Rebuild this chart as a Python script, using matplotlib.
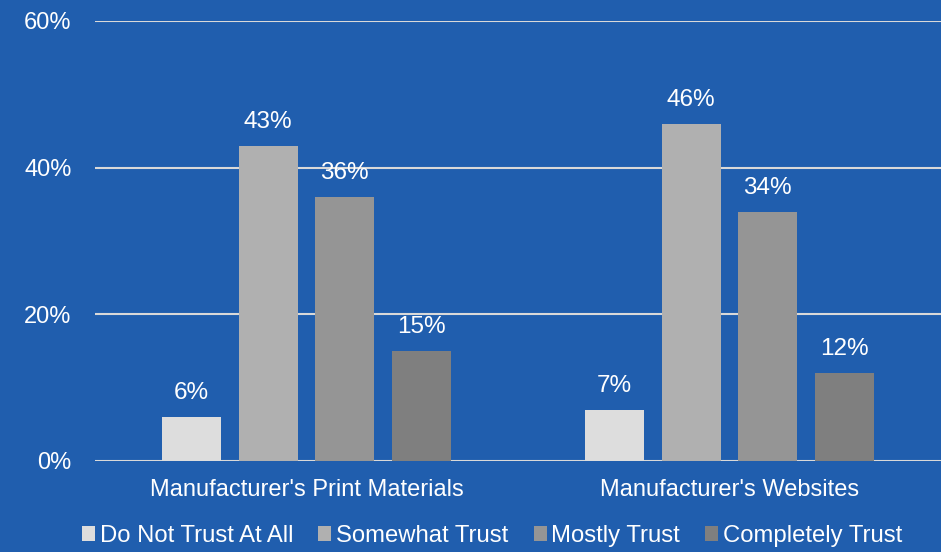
import matplotlib.pyplot as plt
import numpy as np
from matplotlib import rcParams
from matplotlib.ticker import FuncFormatter

rcParams.update({
    "font.family": ['Liberation Sans', 'DejaVu Sans'],
    "font.size": 17,
})

categories = ["Manufacturer's Print Materials", "Manufacturer's Websites"]
series = ['Do Not Trust At All', 'Somewhat Trust', 'Mostly Trust', 'Completely Trust']
values = [
    [6, 7],
    [43, 46],
    [36, 34],
    [15, 12],
]
colors = ['#DDDDDD', '#B0B0B0', '#959595', '#7F7F7F']
bg = '#205EAE'

fig = plt.figure(figsize=(9.41, 5.52), dpi=100)
fig.patch.set_facecolor(bg)
ax = fig.add_axes([0.101, 0.165, 0.899, 0.797])
ax.set_facecolor(bg)

x = np.arange(len(categories))
w = 0.14
step = 0.181
for i, (name, vals) in enumerate(zip(series, values)):
    pos = x + (i - 1.5) * step
    bars = ax.bar(pos, vals, width=w, color=colors[i], label=name, zorder=3)
    for b, v in zip(bars, vals):
        ax.text(b.get_x() + b.get_width() / 2, v + 1.7, f'{v}%',
                ha='center', va='bottom', color='white', fontsize=17.5)

ax.set_xlim(-0.5, 1.5)
ax.set_ylim(0, 60)
ax.set_yticks([0, 20, 40, 60])
ax.yaxis.set_major_formatter(FuncFormatter(lambda v, p: f'{v:.0f}%'))
ax.set_xticks(x)
ax.set_xticklabels(categories)
ax.grid(axis='y', color='#D9D9D9', linewidth=1.5, zorder=0)
for s in ax.spines.values():
    s.set_visible(False)
ax.tick_params(length=0, colors='white', labelsize=17)
ax.tick_params(axis='x', pad=13)
ax.tick_params(axis='y', pad=17)

leg = fig.legend(loc='lower center', bbox_to_anchor=(0.523, -0.03), ncol=4,
                 frameon=False, fontsize=17.2, labelcolor='white',
                 handlelength=0.55, handleheight=0.55, handletextpad=0.2,
                 columnspacing=1.05)

plt.savefig('out.png', facecolor=bg)
